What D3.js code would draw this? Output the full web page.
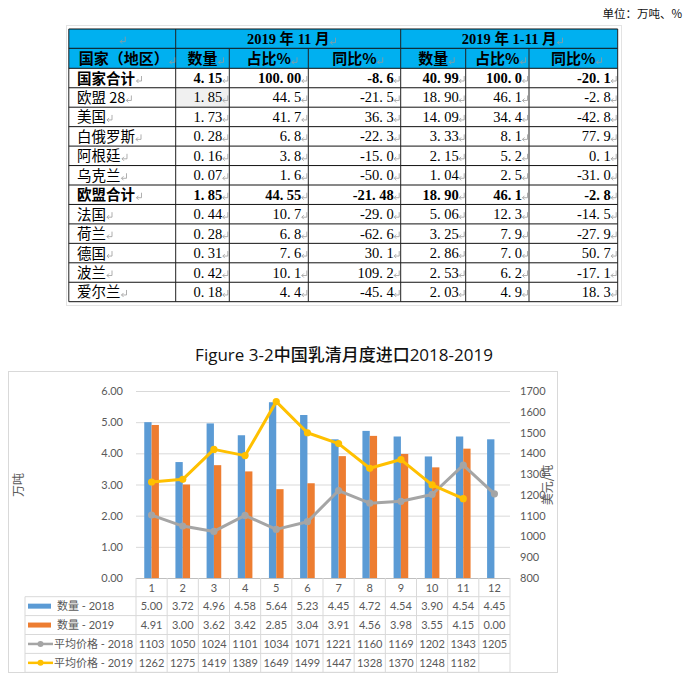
<!DOCTYPE html>
<html><head><meta charset="utf-8">
<script src="https://cdn.jsdelivr.net/npm/d3@7"></script>
<style>body{margin:0;background:#fff}svg{display:block}</style>
</head><body>
<svg id="c" width="687" height="680"></svg>
<script>
// ---------- top table data ----------
const tableRows = ["国家合计","欧盟 28","美国","白俄罗斯","阿根廷","乌克兰","欧盟合计","法国","荷兰","德国","波兰","爱尔兰"];
const boldRows = ["国家合计","欧盟合计"];
const novQty   = ["4.15","1.85","1.73","0.28","0.16","0.07","1.85","0.44","0.28","0.31","0.42","0.18"];
const novShare = ["100.00","44.5","41.7","6.8","3.8","1.6","44.55","10.7","6.8","7.6","10.1","4.4"];
const novYoy   = ["-8.6","-21.5","36.3","-22.3","-15.0","-50.0","-21.48","-29.0","-62.6","30.1","109.2","-45.4"];
const ytdQty   = ["40.99","18.90","14.09","3.33","2.15","1.04","18.90","5.06","3.25","2.86","2.53","2.03"];
const ytdShare = ["100.0","46.1","34.4","8.1","5.2","2.5","46.1","12.3","7.9","7.0","6.2","4.9"];
const ytdYoy   = ["-20.1","-2.8","-42.8","77.9","0.1","-31.0","-2.8","-14.5","-27.9","50.7","-17.1","18.3"];
const periodHeaders = ["2019 年 11 月","2019 年 1-11 月"];
const colHeaders = ["国家（地区）","数量","占比%","同比%","数量","占比%","同比%"];
const unitLabel = "单位：万吨、%";

// ---------- chart data ----------
const chartTitle = "Figure 3-2中国乳清月度进口2018-2019";
const months = [1,2,3,4,5,6,7,8,9,10,11,12];
const qty2018 = [5.00,3.72,4.96,4.58,5.64,5.23,4.45,4.72,4.54,3.90,4.54,4.45];
const qty2019 = [4.91,3.00,3.62,3.42,2.85,3.04,3.91,4.56,3.98,3.55,4.15,0.00];
const price2018 = [1103,1050,1024,1101,1034,1071,1221,1160,1169,1202,1343,1205];
const price2019 = [1262,1275,1419,1389,1649,1499,1447,1328,1370,1248,1182,null];
const seriesNames = ["数量 - 2018","数量 - 2019","平均价格 - 2018","平均价格 - 2019"];
const leftTitle = "万吨", rightTitle = "美元/吨";

const svg = d3.select("#c");
const serifF = "'Liberation Serif','Noto Sans CJK SC',serif";
const cjkF = "'Noto Sans CJK SC',sans-serif";

function retMark(g, x, y) {
  g.append("path")
    .attr("d", `M${x+5},${y-5}V${y}H${x}M${x+2},${y-2}L${x},${y}L${x+2},${y+2}`)
    .attr("stroke", "#9a9a9a").attr("fill", "none").attr("stroke-width", 0.8);
}

// ---------- top table ----------
const T = svg.append("g");
const colX = [68.8,175.7,229.3,308.3,400.7,465.7,529,617.7];
const hTop = 29, hMid = 48.3, bTop = 68.3, bBot = 301.7;
const yRow = d3.scaleBand().domain(d3.range(tableRows.length)).range([bTop, bBot]);

T.append("text").attr("x", 682).attr("y", 18).attr("text-anchor", "end").attr("font-family", cjkF)
  .attr("font-size", 11.5).attr("fill", "#111").text(unitLabel);

T.append("rect").attr("x", 66.5).attr("y", 25.5).attr("width", 555).attr("height", 280)
  .attr("fill", "none").attr("stroke", "#e3e3e3");
T.append("rect").attr("x", colX[0]).attr("y", hTop).attr("width", colX[7]-colX[0]).attr("height", bTop-hTop)
  .attr("fill", "#00b0f0");
// shaded cell
T.append("rect").attr("x", colX[1]).attr("y", yRow(1)).attr("width", colX[2]-colX[1]).attr("height", yRow.bandwidth())
  .attr("fill", "#f0f0f0");

// horizontal lines
const hLines = [hTop, hMid, bTop, ...d3.range(1, tableRows.length).map(i => yRow(i)), bBot];
hLines.forEach(y => T.append("line").attr("x1", colX[0]).attr("x2", colX[7]).attr("y1", y).attr("y2", y)
  .attr("stroke", "#111").attr("stroke-width", 1));
// vertical lines
colX.forEach((x, i) => {
  const full = (i === 0 || i === 1 || i === 4 || i === 7);
  T.append("line").attr("x1", x).attr("x2", x).attr("y1", full ? hTop : hMid).attr("y2", bBot)
    .attr("stroke", "#222").attr("stroke-width", 1);
});

// header row 1
retMark(T, (colX[0]+colX[1])/2 - 2, (hTop+hMid)/2 + 3);
[[colX[1],colX[4]],[colX[4],colX[7]]].forEach((r, i) => {
  const t = T.append("text").attr("x", (r[0]+r[1])/2).attr("y", (hTop+hMid)/2 + 5.5)
    .attr("text-anchor", "middle").attr("font-family", serifF).attr("font-weight", "bold")
    .attr("font-size", 14.5).attr("fill", "#000").text(periodHeaders[i]);
  const bb = t.node().getBBox();
  retMark(T, bb.x + bb.width + 1, (hTop+hMid)/2 + 4);
});
// header row 2
colHeaders.forEach((h, i) => {
  const cx = i === 0 ? colX[0] + 10 : (colX[i] + colX[i+1]) / 2;
  const t = T.append("text").attr("x", cx).attr("y", (hMid+bTop)/2 + 6)
    .attr("text-anchor", i === 0 ? "start" : "middle").attr("font-family", cjkF).attr("font-weight", "bold")
    .attr("font-size", 15).attr("fill", "#000").text(h);
  const bb = t.node().getBBox();
  retMark(T, bb.x + bb.width + 1, (hMid+bTop)/2 + 4);
});

// body rows
const cols = [novQty, novShare, novYoy, ytdQty, ytdShare, ytdYoy];
tableRows.forEach((name, r) => {
  const y = yRow(r) + yRow.bandwidth()/2;
  const bold = boldRows.includes(name);
  const t = T.append("text").attr("x", 77).attr("y", y + 5.5).attr("font-family", cjkF)
    .attr("font-weight", bold ? "bold" : "normal").attr("font-size", 14.5).attr("fill", "#000").text(name);
  const bb = t.node().getBBox();
  retMark(T, bb.x + bb.width + 1, y + 3);
  cols.forEach((arr, c) => {
    const xr = colX[c+2] - 7;
    const parts = arr[r].split(".");
    const tx = T.append("text").attr("x", xr).attr("y", y + 5).attr("text-anchor", "end")
      .attr("font-family", serifF).attr("font-weight", bold ? "bold" : "normal")
      .attr("font-size", 14.5).attr("fill", "#000");
    tx.append("tspan").text(parts[0] + ".");
    tx.append("tspan").attr("dx", 3.5).text(parts[1]);
    retMark(T, xr + 0.5, y + 3);
  });
});

// ---------- chart ----------
const C = svg.append("g");
const sansF = "'Lato','Noto Sans CJK SC',sans-serif";
const gray = "#595959";

C.append("rect").attr("x", 8.5).attr("y", 371.5).attr("width", 549).attr("height", 301)
  .attr("fill", "#fff").attr("stroke", "#d9d9d9");

C.append("text").attr("x", 344).attr("y", 361).attr("text-anchor", "middle")
  .attr("font-family", "'Open Sans','Noto Sans CJK SC',sans-serif").attr("font-weight", 500)
  .attr("font-size", 17).attr("fill", "#111").text(chartTitle);

const x = d3.scaleBand().domain(months).range([136, 510]);
const bw = x.bandwidth();
const xs = d3.scaleBand().domain([0, 1]).range([bw*0.265, bw*0.735]);
const yL = d3.scaleLinear().domain([0, 6]).range([578, 391]);
const yR = d3.scaleLinear().domain([800, 1700]).range([578, 391]);

// left axis + gridlines
const axL = C.append("g").attr("transform", "translate(136,0)")
  .call(d3.axisLeft(yL).ticks(6).tickFormat(d3.format(".2f")).tickSize(-374).tickPadding(13));
axL.select(".domain").remove();
axL.selectAll(".tick line").attr("stroke", d => d === 0 ? "#bfbfbf" : "#d9d9d9");
axL.selectAll(".tick text").attr("font-family", sansF).attr("font-size", 11).attr("fill", gray);

// right axis
const axR = C.append("g").attr("transform", "translate(510,0)")
  .call(d3.axisRight(yR).ticks(9).tickFormat(d3.format("d")).tickSize(0).tickPadding(10));
axR.select(".domain").remove();
axR.selectAll(".tick text").attr("font-family", sansF).attr("font-size", 11).attr("fill", gray);

// axis titles
C.append("text").attr("transform", "translate(23,485) rotate(-90)").attr("text-anchor", "middle")
  .attr("font-family", cjkF).attr("font-size", 12).attr("fill", gray).text(leftTitle);
C.append("text").attr("transform", "translate(552,485) rotate(-90)").attr("text-anchor", "middle")
  .attr("font-family", cjkF).attr("font-size", 12).attr("fill", gray).text(rightTitle);

// bars
const barColors = ["#5b9bd5", "#ed7d31"];
[qty2018, qty2019].forEach((arr, s) => {
  C.append("g").selectAll("rect").data(months).join("rect")
    .attr("x", m => x(m) + xs(s)).attr("width", xs.bandwidth())
    .attr("y", (m, i) => yL(arr[i])).attr("height", (m, i) => yL(0) - yL(arr[i]))
    .attr("fill", barColors[s]);
});

// lines
const lineColors = ["#a5a5a5", "#ffc000"];
[price2018, price2019].forEach((arr, s) => {
  const pts = months.map((m, i) => [m, arr[i]]);
  const line = d3.line().defined(d => d[1] != null).x(d => x(d[0]) + bw/2).y(d => yR(d[1]));
  C.append("path").datum(pts).attr("d", line).attr("fill", "none")
    .attr("stroke", lineColors[s]).attr("stroke-width", 3).attr("stroke-linejoin", "round");
  C.append("g").selectAll("circle").data(pts.filter(d => d[1] != null)).join("circle")
    .attr("cx", d => x(d[0]) + bw/2).attr("cy", d => yR(d[1])).attr("r", 3.6)
    .attr("fill", lineColors[s]);
});

// data table under chart
const tTop = 578, hdrBot = 596.7, rowH2 = 18.9;
const tRows = d3.scaleBand().domain(d3.range(4)).range([hdrBot, hdrBot + 4*rowH2]);
const tBot = hdrBot + 4*rowH2;
const gridC = "#d9d9d9";
d3.range(13).forEach(i => {
  const xx = 136 + i*bw;
  C.append("line").attr("x1", xx).attr("x2", xx).attr("y1", tTop).attr("y2", tBot)
    .attr("stroke", gridC);
});
C.append("line").attr("x1", 25).attr("x2", 25).attr("y1", hdrBot).attr("y2", tBot).attr("stroke", gridC);
d3.range(5).forEach(i => {
  const yy = hdrBot + i*rowH2;
  C.append("line").attr("x1", 25).attr("x2", 510).attr("y1", yy).attr("y2", yy).attr("stroke", gridC);
});
C.append("g").selectAll("text").data(months).join("text")
  .attr("x", m => x(m) + bw/2).attr("y", 591.5).attr("text-anchor", "middle")
  .attr("font-family", sansF).attr("font-size", 11).attr("fill", gray).text(m => m);

const rowsData = [qty2018.map(d3.format(".2f")), qty2019.map(d3.format(".2f")),
  price2018.map(d => d == null ? "" : d), price2019.map(d => d == null ? "" : d)];
rowsData.forEach((arr, r) => {
  const cy = tRows(r) + rowH2/2;
  C.append("g").selectAll("text").data(months).join("text")
    .attr("x", m => x(m) + bw/2).attr("y", cy + 4).attr("text-anchor", "middle")
    .attr("font-family", sansF).attr("font-size", 11).attr("fill", gray)
    .text((m, i) => arr[i]);
  if (r < 2) {
    C.append("rect").attr("x", 28).attr("y", cy - 2.5).attr("width", 23).attr("height", 5)
      .attr("fill", barColors[r]);
    C.append("text").attr("x", 57).attr("y", cy + 4).attr("font-family", sansF)
      .attr("font-size", 11).attr("fill", gray).text(seriesNames[r]);
  } else {
    C.append("line").attr("x1", 28).attr("x2", 53).attr("y1", cy).attr("y2", cy)
      .attr("stroke", lineColors[r-2]).attr("stroke-width", 2.5);
    C.append("circle").attr("cx", 40.5).attr("cy", cy).attr("r", 3).attr("fill", lineColors[r-2]);
    C.append("text").attr("x", 54).attr("y", cy + 4).attr("font-family", sansF)
      .attr("font-size", 11).attr("fill", gray).text(seriesNames[r]);
  }
});
</script>
</body></html>
